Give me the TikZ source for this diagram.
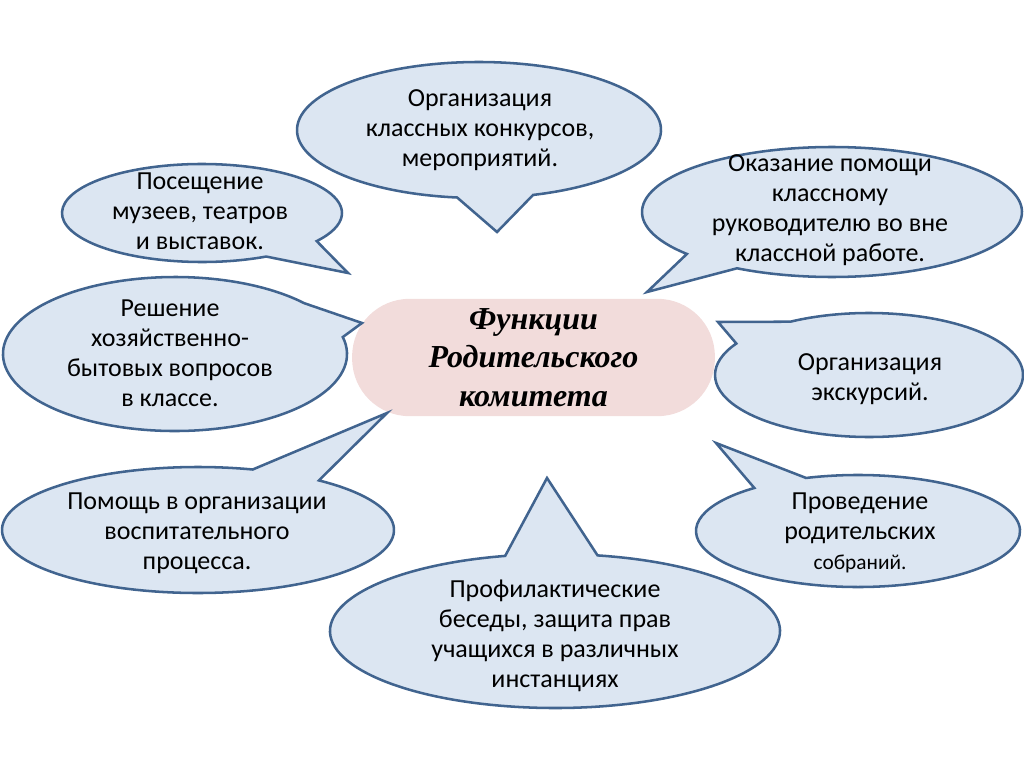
\documentclass[tikz,border=0pt]{standalone}
\usepackage{fontspec}
\setmainfont{Carlito}
\newfontfamily\titlefont{Liberation Serif}
\usetikzlibrary{positioning}
\definecolor{bubblefill}{HTML}{DCE6F2}
\definecolor{bubbleline}{HTML}{41648F}
\definecolor{hubfill}{HTML}{F2DCDB}

\begin{document}
\begin{tikzpicture}[
  x=0.75pt,y=-0.75pt,
  bubble/.style={fill=bubblefill,draw=bubbleline,line width=1.9pt,line join=miter},
  txt/.style={align=center,font=\fontsize{19.5}{22.5}\selectfont,inner sep=0pt},
  hub/.style={fill=hubfill,rounded corners=43pt,minimum width=272pt,minimum height=88pt,
    align=center,font=\titlefont\bfseries\itshape\fontsize{24}{29}\selectfont}
]
\useasboundingbox (0,0) rectangle (1024,767);

% ----- Centre --------------------------------------------------------------
\node[hub] (hub) at (533.5,357.5) {Функции\\Родительского\\комитета};

% ----- Pointes des bulles ---------------------------------------------------
\coordinate (tOrg)  at (497,232);
\coordinate (tMuz)  at (348,273);
\coordinate (tPom)  at (647,292);
\coordinate (tRes)  at (362,323);
\coordinate (tEks)  at (718,322);
\coordinate (tVos)  at (387,413);
\coordinate (tSob)  at (716,443);
\coordinate (tPro)  at (547,478);

% ----- Bulles ---------------------------------------------------------------
\path[bubble] (479,130) ++(96.9:182 and 68)
  arc[start angle=96.9,end angle=432.7,x radius=182,y radius=68] -- (tOrg) -- cycle;
\path[bubble] (202,213) ++(62.7:140 and 49)
  arc[start angle=62.7,end angle=395,x radius=140,y radius=49] -- (tMuz) -- cycle;
\path[bubble] (832,212) ++(139.8:190 and 65)
  arc[start angle=139.8,end angle=480,x radius=190,y radius=65] -- (tPom) -- cycle;
\path[bubble] (175,354) ++(-12.7:172 and 77)
  arc[start angle=-12.7,end angle=318.7,x radius=172,y radius=77] -- (tRes) -- cycle;
\path[bubble] (869,375) ++(239.3:154 and 62)
  arc[start angle=239.3,end angle=570.5,x radius=154,y radius=62] -- (tEks) -- cycle;
\path[bubble] (198,530) ++(308.1:196 and 63)
  arc[start angle=308.1,end angle=646.2,x radius=196,y radius=63] -- (tVos) -- cycle;
\path[bubble] (858,531) ++(251.3:162 and 56)
  arc[start angle=251.3,end angle=590.2,x radius=162,y radius=56] -- (tSob) -- cycle;
\path[bubble] (555,631) ++(280.9:225 and 77)
  arc[start angle=280.9,end angle=617.2,x radius=225,y radius=77] -- (tPro) -- cycle;

% ----- Textes ---------------------------------------------------------------
\node[txt] (org) at (480,130) {Организация\\классных конкурсов,\\мероприятий.};
\node[txt] (muz) at (200,211) {Посещение\\музеев, театров\\и выставок.};
\node[txt] (pom) at (830,210) {Оказание помощи\\классному\\руководителю во вне\\классной работе.};
\node[txt] (res) at (170,353) {Решение\\хозяйственно-\\бытовых вопросов\\в классе.};
\node[txt] (eks) at (870,379) {Организация\\экскурсий.};
\node[txt] (vos) at (197,533) {Помощь в организации\\воспитательного\\процесса.};
\node[txt] (sob) at (860,533) {Проведение\\родительских\\{\fontsize{16}{20}\selectfont собраний.}};
\node[txt] (pro) at (555,636) {Профилактические\\беседы, защита прав\\учащихся в различных\\инстанциях};

\end{tikzpicture}
\end{document}
